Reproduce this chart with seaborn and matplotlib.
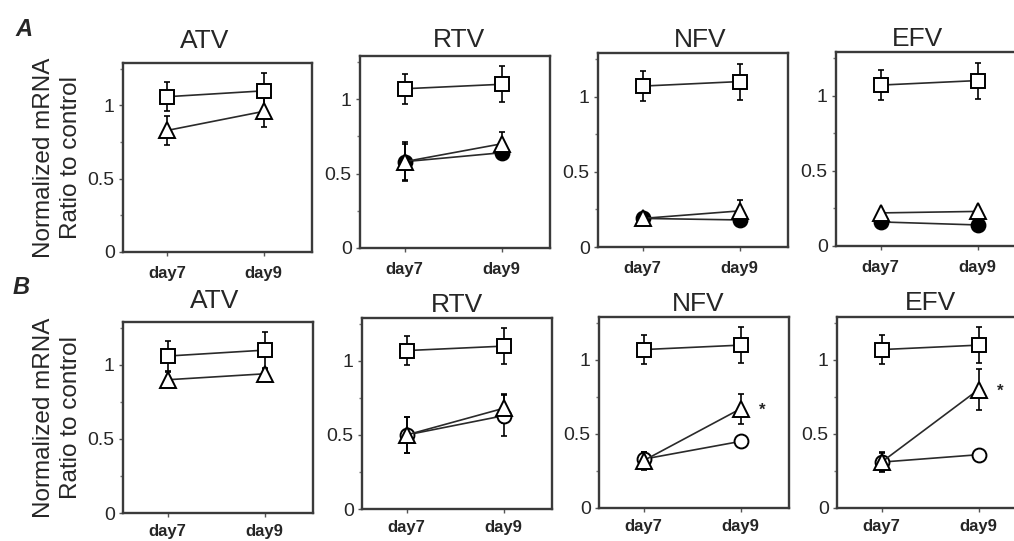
import matplotlib
matplotlib.use("Agg")
import matplotlib.pyplot as plt
import seaborn as sns
import pandas as pd
import numpy as np

sns.set_style("ticks")
plt.rcParams["font.family"] = ["Liberation Sans", "DejaVu Sans"]

# ---------------- data ----------------
drugs = ["ATV", "RTV", "NFV", "EFV"]
days = ["day7", "day9"]
y_ticks = [0, 0.5, 1]
y_tick_labels = ["0", "0.5", "1"]

# Panel A  (squares = control-like, triangles, filled circles)
A_sq_mean = [[1.06, 1.10], [1.07, 1.10], [1.07, 1.10], [1.07, 1.10]]
A_sq_err = [[0.10, 0.12], [0.10, 0.12], [0.10, 0.12], [0.10, 0.12]]
A_tri_mean = [[0.83, 0.96], [0.58, 0.70], [0.19, 0.24], [0.22, 0.23]]
A_tri_err = [[0.10, 0.11], [0.13, 0.08], [0.00, 0.07], [0.00, 0.00]]
A_cir_mean = [None, [0.58, 0.64], [0.19, 0.18], [0.16, 0.14]]
A_cir_err = [None, [0.12, 0.00], [0.00, 0.00], [0.00, 0.00]]

# Panel B  (squares, triangles, open circles)
B_sq_mean = [[1.06, 1.10], [1.07, 1.10], [1.07, 1.10], [1.07, 1.10]]
B_sq_err = [[0.10, 0.12], [0.10, 0.12], [0.10, 0.12], [0.10, 0.12]]
B_tri_mean = [[0.90, 0.94], [0.50, 0.68], [0.32, 0.67], [0.31, 0.80]]
B_tri_err = [[0.05, 0.03], [0.12, 0.10], [0.06, 0.10], [0.07, 0.14]]
B_cir_mean = [None, [0.50, 0.63], [0.33, 0.45], [0.31, 0.36]]
B_cir_err = [None, [0.12, 0.14], [0.05, 0.00], [0.06, 0.00]]
B_star = [False, False, True, True]

# ---------------- layout (pixels) ----------------
W, H = 1014, 541
fig = plt.figure(figsize=(W / 100, H / 100), dpi=100)

# left, right, top, bottom in pixels
boxes = {
    "A": [(123, 312, 63, 252), (360, 550, 56, 248), (598, 788, 53, 247), (836, 1026, 52, 246)],
    "B": [(123, 313, 322, 513), (362, 552, 318, 509), (599, 789, 317, 508), (837, 1027, 317, 508)],
}
title_x = {"A": [0.43, 0.52, 0.54, 0.43], "B": [0.48, 0.50, 0.52, 0.49]}
title_pad = {"A": [11, 6.5, 4.5, 4], "B": [10, 4.5, 4, 5]}
xtick_pad = {"A": 7, "B": 5}

LC = "#2a2a2a"


def draw_series(ax, mean, err, marker, mfc, ms=9):
    df = pd.DataFrame({"x": [0, 1], "y": mean})
    if any(e > 0 for e in err):
        ax.errorbar(df["x"], df["y"], yerr=err, fmt="none", ecolor="black",
                    elinewidth=1.2, capsize=2.2, capthick=1.2, zorder=2)
    sns.lineplot(data=df, x="x", y="y", ax=ax, color=LC, linewidth=1.2,
                 marker=marker, markersize=ms, markerfacecolor=mfc,
                 markeredgecolor="black", markeredgewidth=1.4, zorder=3)


for row in ["A", "B"]:
    sq_m = A_sq_mean if row == "A" else B_sq_mean
    sq_e = A_sq_err if row == "A" else B_sq_err
    tr_m = A_tri_mean if row == "A" else B_tri_mean
    tr_e = A_tri_err if row == "A" else B_tri_err
    ci_m = A_cir_mean if row == "A" else B_cir_mean
    ci_e = A_cir_err if row == "A" else B_cir_err
    circ_face = "black" if row == "A" else "white"
    for i, drug in enumerate(drugs):
        l, r, t, b = boxes[row][i]
        ax = fig.add_axes([l / W, 1 - b / H, (r - l) / W, (b - t) / H])
        if ci_m[i] is not None:
            draw_series(ax, ci_m[i], ci_e[i], "o", circ_face, ms=10)
        draw_series(ax, tr_m[i], tr_e[i], "^", "white", ms=11)
        draw_series(ax, sq_m[i], sq_e[i], "s", "white", ms=10)
        if row == "B" and B_star[i]:
            ax.text(1.22, tr_m[i][1] - 0.01, "*", ha="center", va="center",
                    fontsize=12, fontweight="bold")
        ax.set_xlim(-0.46, 1.5)
        ax.set_ylim(0, 1.29)
        ax.set_xticks([0, 1])
        ax.set_xticklabels(days, fontsize=12, fontweight="bold")
        ax.set_yticks(y_ticks)
        ax.set_yticklabels(y_tick_labels, fontsize=14)
        ax.set_yticks([0.25, 0.75, 1.25], minor=True)
        ax.tick_params(axis="both", which="major", direction="out", length=3,
                       width=1, color="#555555")
        ax.tick_params(axis="x", pad=xtick_pad[row])
        ax.tick_params(axis="y", pad=3)
        ax.tick_params(axis="y", which="minor", direction="out", length=2,
                       width=1, color="#777777")
        ax.set_xlabel("")
        ax.set_ylabel("")
        for sp in ax.spines.values():
            sp.set_visible(True)
            sp.set_linewidth(1.7)
            sp.set_color("#3a3a3a")
        ax.set_title(drug, fontsize=19, x=title_x[row][i], pad=title_pad[row][i])
        if i == 0:
            ax.set_ylabel("Normalized mRNA\nRatio to control", fontsize=17.5,
                          linespacing=1.3)
            ax.yaxis.set_label_coords(-0.215, 0.5)

fig.text(24 / W, 1 - 30 / H, "A", fontsize=17, fontweight="bold", fontstyle="italic",
         ha="center", va="center")
fig.text(21 / W, 1 - 287 / H, "B", fontsize=17, fontweight="bold", fontstyle="italic",
         ha="center", va="center")

fig.savefig("out.png", dpi=100)
